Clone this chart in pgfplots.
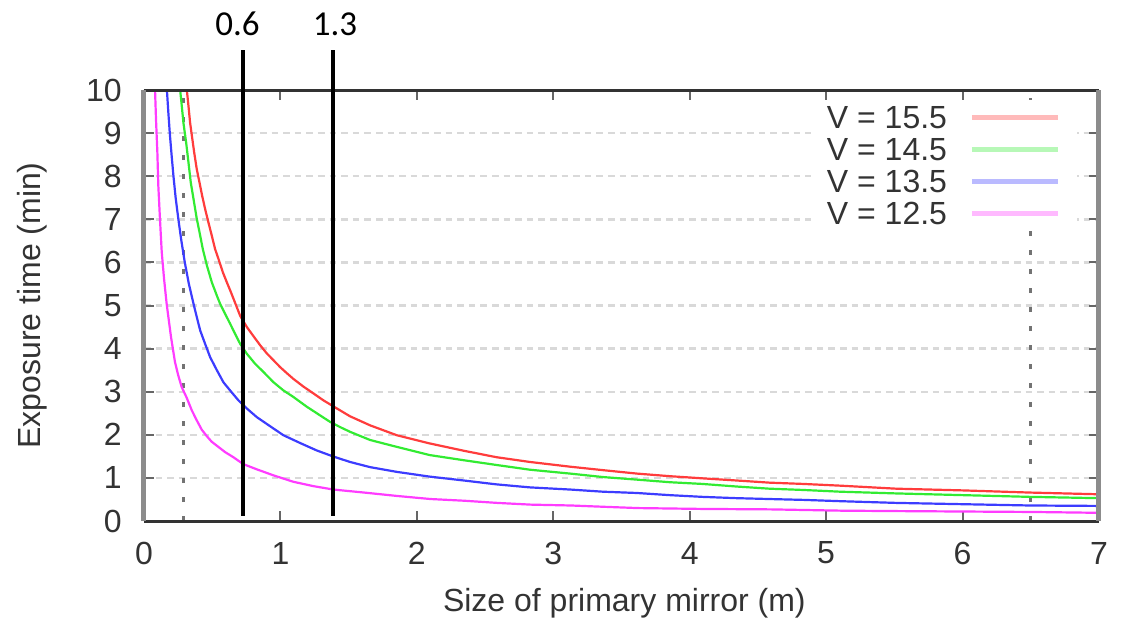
\documentclass[border=0pt]{standalone}
\usepackage{pgfplots}
\pgfplotsset{compat=1.18}
\usepackage{fontspec}
\setmainfont{Liberation Sans}
\newfontfamily\calib{Carlito}

\definecolor{cRed}{RGB}{255,60,60}
\definecolor{cGreen}{RGB}{50,235,50}
\definecolor{cBlue}{RGB}{60,60,255}
\definecolor{cMag}{RGB}{255,60,255}

\newcommand{\gfont}{\fontsize{16}{19}\selectfont}

\begin{document}
\begin{tikzpicture}
\path[use as bounding box] (-72pt,-48pt) rectangle (490pt,260.5pt);
\begin{axis}[
  scale only axis,
  width=477.5pt, height=215.5pt,
  xmin=0, xmax=7, ymin=0, ymax=10,
  clip=false,
  xtick={0,1,...,7}, ytick={0,1,...,10},
  axis line style={draw=none},
  major tick length=5pt,
  tick style={black!60, line width=1pt},
  /pgf/number format/assume math mode=true,
  tick label style={font=\gfont, text=black!80, inner sep=0pt},
  xticklabel style={anchor=center, yshift=-16pt},
  yticklabel style={anchor=east, xshift=-11pt},
  ymajorgrids,
  grid style={black!15, line width=1.2pt, dash pattern=on 3.3pt off 2.5pt},
  xlabel={Size of primary mirror (m)},
  ylabel={Exposure time (min)},
  label style={font=\gfont, text=black!80},
  xlabel style={at={(axis description cs:0.503,-0.190)}, anchor=center},
  ylabel style={at={(axis description cs:-0.1173,0.5)}, anchor=center},
  legend plot pos=right,
  legend cell align=right,
  legend image code/.code={\draw[#1, line width=2.8pt, draw opacity=0.35] (0pt,0pt) -- (43pt,0pt);},
  legend style={at={(rel axis cs:0.977,0.977)}, anchor=north east,
    fill=white, draw=none, inner xsep=8pt, inner ysep=0.5pt,
    row sep=0pt, column sep=11pt, font=\gfont, text=black!80,
    nodes={inner sep=0pt, text height=13.75pt, text depth=2.25pt}},
]

% reference markers
\addplot[forget plot, black!55, line width=1.5pt, dash pattern=on 2.5pt off 7pt]
  coordinates {(0.286,0) (0.286,10)};
\addplot[forget plot, black!55, line width=1.5pt, dash pattern=on 2.5pt off 7pt]
  coordinates {(6.5,0) (6.5,10)};

% V = 15.5
\addplot[cRed, line width=1.1pt] coordinates {
(0.314,10.0) (0.326,9.63) (0.338,9.24) (0.351,8.94) (0.368,8.55) (0.387,8.16)
(0.407,7.85) (0.426,7.55) (0.448,7.24) (0.472,6.93) (0.497,6.62) (0.521,6.31)
(0.546,6.08) (0.578,5.77) (0.607,5.54) (0.637,5.31) (0.668,5.06) (0.705,4.76)
(0.754,4.50) (0.802,4.29) (0.851,4.08) (0.900,3.89) (0.949,3.73) (0.998,3.57)
(1.047,3.43) (1.094,3.30) (1.168,3.12) (1.242,2.96) (1.315,2.80) (1.388,2.66)
(1.510,2.43) (1.657,2.22) (1.853,1.99) (2.094,1.80) (2.344,1.63) (2.584,1.48)
(2.829,1.37) (3.124,1.26) (3.364,1.18) (3.614,1.10) (3.854,1.04) (4.094,0.99)
(4.344,0.94) (4.584,0.89) (4.834,0.86) (5.104,0.82) (5.514,0.75) (6.004,0.71)
(6.494,0.66) (7.0,0.62)};
\addlegendentry{V = 15.5}

% V = 14.5
\addplot[cGreen, line width=1.1pt] coordinates {
(0.265,10.0) (0.277,9.63) (0.289,9.24) (0.309,8.78) (0.326,8.32) (0.343,7.85)
(0.363,7.47) (0.387,7.01) (0.407,6.70) (0.431,6.31) (0.461,5.93) (0.497,5.54)
(0.534,5.23) (0.558,5.04) (0.594,4.81) (0.631,4.58) (0.668,4.34) (0.705,4.11)
(0.754,3.88) (0.814,3.65) (0.875,3.46) (0.949,3.22) (1.022,3.03) (1.094,2.88)
(1.194,2.65) (1.291,2.45) (1.364,2.30) (1.437,2.18) (1.510,2.07) (1.657,1.88)
(1.853,1.72) (2.094,1.53) (2.344,1.41) (2.584,1.30) (2.829,1.19) (3.124,1.10)
(3.364,1.02) (3.614,0.96) (3.854,0.90) (4.094,0.86) (4.344,0.80) (4.584,0.75)
(4.834,0.72) (5.104,0.68) (5.514,0.64) (6.004,0.60) (6.494,0.56) (7.0,0.53)};
\addlegendentry{V = 14.5}

% V = 13.5
\addplot[cBlue, line width=1.1pt] coordinates {
(0.168,10.0) (0.178,9.5) (0.189,9.0) (0.202,8.5) (0.216,8.0) (0.232,7.5)
(0.252,7.0) (0.274,6.5) (0.299,6.0) (0.329,5.5) (0.363,5.04) (0.387,4.73)
(0.412,4.42) (0.448,4.11) (0.485,3.80) (0.534,3.50) (0.582,3.22) (0.631,3.03)
(0.692,2.80) (0.754,2.61) (0.827,2.41) (0.924,2.20) (1.022,1.99) (1.144,1.81)
(1.264,1.64) (1.384,1.50) (1.510,1.37) (1.657,1.25) (1.853,1.14) (2.094,1.03)
(2.344,0.94) (2.584,0.85) (2.829,0.78) (3.124,0.73) (3.364,0.68) (3.614,0.65)
(3.854,0.60) (4.094,0.56) (4.344,0.53) (4.584,0.51) (4.834,0.49) (5.104,0.46)
(5.514,0.42) (6.004,0.39) (6.494,0.36) (7.0,0.35)};
\addlegendentry{V = 13.5}

% V = 12.5
\addplot[cMag, line width=1.1pt] coordinates {
(0.081,10.0) (0.088,9.32) (0.098,8.55) (0.105,7.78) (0.117,7.01) (0.130,6.24)
(0.147,5.62) (0.166,5.04) (0.198,4.27) (0.227,3.69) (0.251,3.38) (0.276,3.11)
(0.313,2.86) (0.350,2.57) (0.386,2.34) (0.423,2.12) (0.460,1.97) (0.496,1.84)
(0.545,1.72) (0.594,1.60) (0.655,1.48) (0.728,1.32) (0.826,1.20) (0.948,1.06)
(1.095,0.91) (1.240,0.81) (1.388,0.73) (1.614,0.66) (1.859,0.58) (2.100,0.51)
(2.350,0.47) (2.590,0.42) (2.835,0.38) (3.130,0.36) (3.370,0.33) (3.620,0.30)
(4.100,0.28) (4.590,0.27) (5.110,0.24) (5.520,0.23) (6.010,0.22) (6.500,0.21)
(7.0,0.19)};
\addlegendentry{V = 12.5}

% frame
\draw[black!80, line width=1.5pt] (rel axis cs:0,0) -- (rel axis cs:1,0);
\draw[black!80, line width=1.5pt] (rel axis cs:0,1) -- (rel axis cs:1,1);
\draw[black!45, line width=2.5pt] (rel axis cs:0,0) -- (rel axis cs:0,1);
\draw[black!45, line width=2.5pt] (rel axis cs:1,0) -- (rel axis cs:1,1);

% mirror sizes of interest
\addplot[forget plot, black, line width=2pt] coordinates {(0.726,0.12) (0.726,10.93)};
\addplot[forget plot, black, line width=2pt] coordinates {(1.386,0.12) (1.386,10.93)};
\node[font=\calib\fontsize{17.5}{20}\selectfont] at (axis cs:0.685,11.53) {0.6};
\node[font=\calib\fontsize{17.5}{20}\selectfont] at (axis cs:1.40,11.53) {1.3};
\end{axis}
\end{tikzpicture}
\end{document}
